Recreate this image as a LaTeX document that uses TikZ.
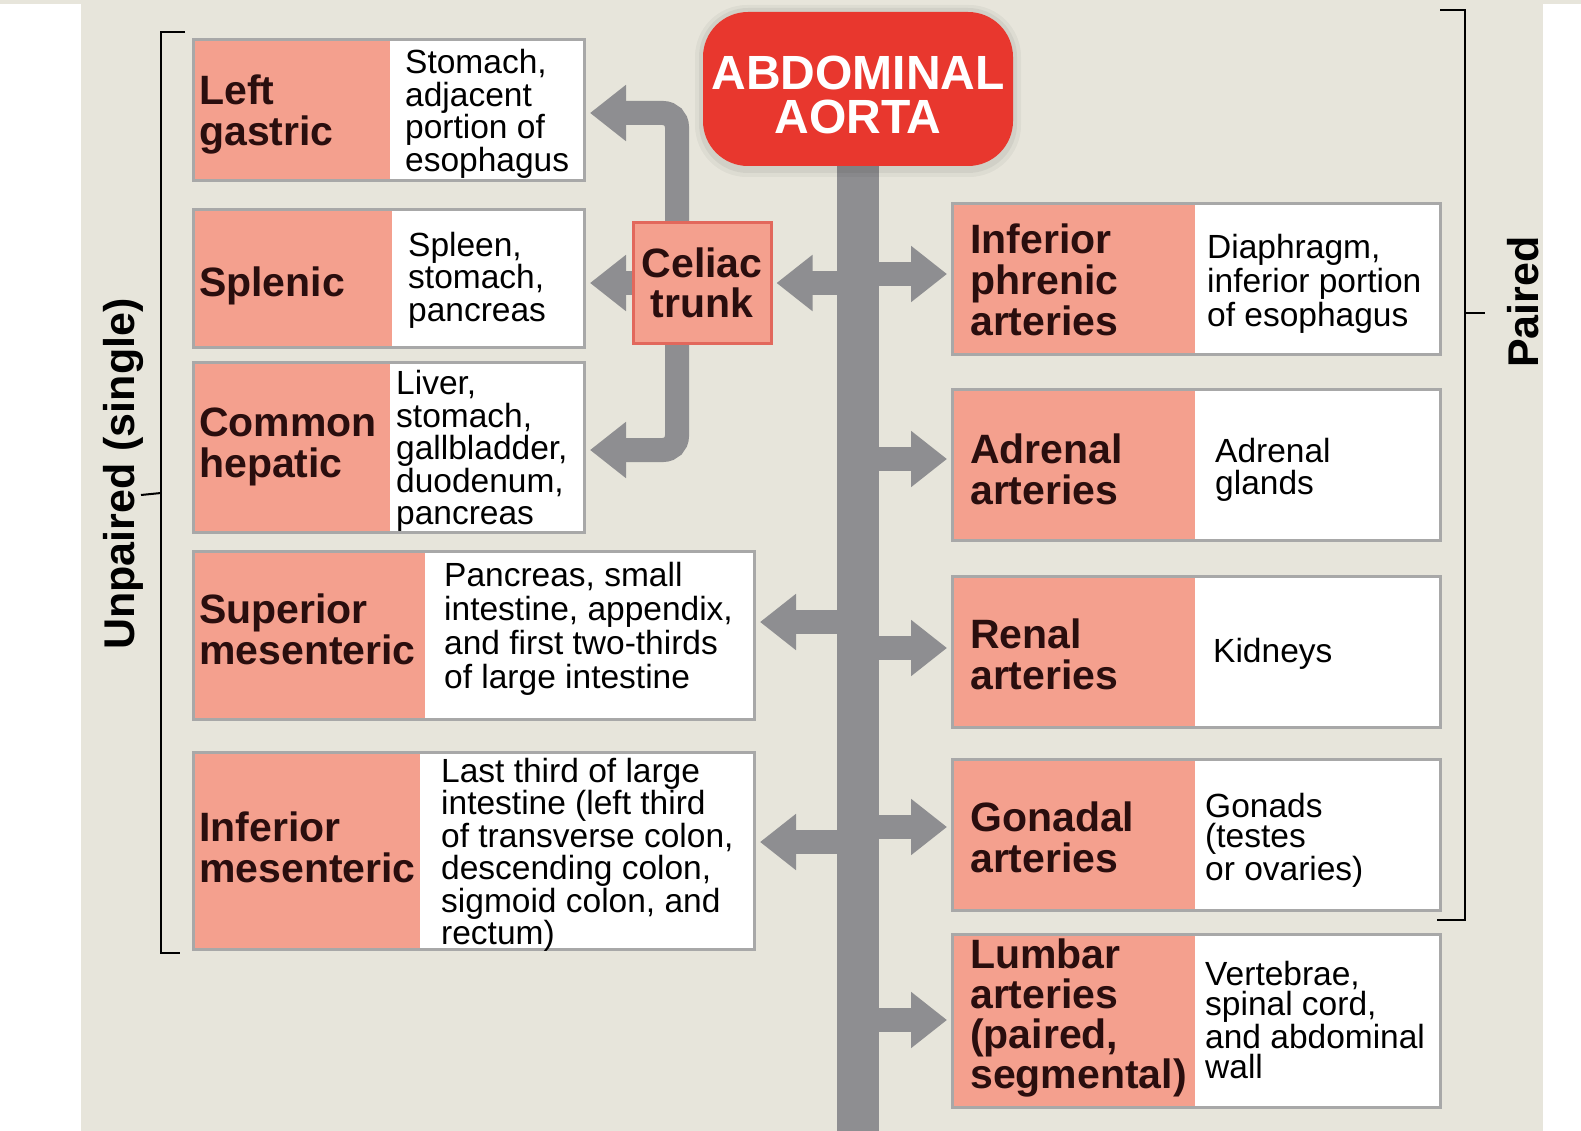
\documentclass[tikz,border=0pt]{standalone}
\usepackage{fontspec}
\setmainfont{Liberation Sans}
\usetikzlibrary{arrows.meta}
\pgfdeclarelayer{bg}
\pgfdeclarelayer{arr}
\pgfsetlayers{bg,arr,main}
\definecolor{beige}{HTML}{E7E5DB}
\definecolor{pinkc}{HTML}{F4A08E}
\definecolor{boxgray}{HTML}{A8A8A8}
\definecolor{arrgray}{HTML}{8E8E91}
\definecolor{aortared}{HTML}{E8372E}
\definecolor{celborder}{HTML}{E2685C}
\definecolor{labelc}{HTML}{2A0E0E}
\begin{document}
\begin{tikzpicture}[x=1pt,y=-1pt,
  frame/.style={rectangle, draw=boxgray, line width=3pt, fill=white, inner sep=0pt, anchor=north west},
  split/.style={path picture={\fill[pinkc] (path picture bounding box.north west) rectangle ([xshift=#1]path picture bounding box.south west);}},
  lbl/.style={anchor=west, align=left, inner sep=0pt, text=labelc, font=\bfseries\fontsize{41}{41}\selectfont},
  dsc/.style={anchor=west, align=left, inner sep=0pt, text=black, font=\fontsize{33.5}{32.5}\selectfont},
  artery/.style={draw=arrgray, line width=24pt, -{Triangle[width=54pt,length=36pt]}, shorten >=4pt},
  brk/.style={draw=black, line width=2pt},
  side/.style={rotate=90, inner sep=0pt, text=black, font=\bfseries\fontsize{43}{43}\selectfont},
]
\useasboundingbox (0,0) rectangle (1581,1131);
\begin{pgfonlayer}{bg}
\fill[white] (0,0) rectangle (1581,1131);
\fill[beige] (81,0) rectangle (1543,1131);
\fill[beige] (0,0) rectangle (1581,4);
\end{pgfonlayer}

% brackets
\draw[brk] (185,32) -- (161,32) -- (161,953) -- (180,953);
\draw[brk] (161,493) -- (141,495);
\node[side] (unp) at (123,474) {Unpaired (single)};
\draw[brk] (1440,10) -- (1465,10) -- (1465,920) -- (1437,920);
\draw[brk] (1465,313) -- (1485,313);
\node[side] (pair) at (1523,302) {Paired};

% aorta trunk
\begin{pgfonlayer}{arr}
\node[fill=arrgray, inner sep=0pt, minimum width=42pt, minimum height=975pt, anchor=north] (trunk) at (858,156) {};
\end{pgfonlayer}

% boxes (left, unpaired)
\node[frame, split=196pt, minimum width=391pt, minimum height=141pt] (lg) at (192,38) {};
\node[frame, split=198pt, minimum width=391pt, minimum height=138pt] (sp) at (192,208) {};
\node[frame, split=196pt, minimum width=391pt, minimum height=170pt] (ch) at (192,361) {};
\node[frame, split=231pt, minimum width=561pt, minimum height=168pt] (sm) at (192,550) {};
\node[frame, split=226pt, minimum width=561pt, minimum height=197pt] (im) at (192,751) {};
% boxes (right, paired)
\node[frame, split=242pt, minimum width=488pt, minimum height=151pt] (ip) at (951,202) {};
\node[frame, split=242pt, minimum width=488pt, minimum height=151pt] (ad) at (951,388) {};
\node[frame, split=242pt, minimum width=488pt, minimum height=151pt] (rn) at (951,575) {};
\node[frame, split=242pt, minimum width=488pt, minimum height=151pt] (gn) at (951,758) {};
\node[frame, split=242pt, minimum width=488pt, minimum height=173pt] (lm) at (951,933) {};

% celiac trunk
\node[rectangle, fill=pinkc, draw=celborder, line width=3pt, minimum width=138pt, minimum height=121pt, inner sep=0pt, align=center, text=labelc, font=\bfseries\fontsize{41}{40}\selectfont] (cel) at (702,283) {Celiac\\trunk};

% arrow end coordinates
\coordinate (cbar) at (677,283);
\coordinate (lgA) at (lg.east |- 0,113);
\coordinate (chA) at (ch.east |- 0,450);
\coordinate (spA) at (sp.east |- cel.west);
\coordinate (smA) at (sm.east |- 0,622);
\coordinate (imA) at (im.east |- 0,842);
\coordinate (ipA) at (ip.west |- 0,274);
\coordinate (adA) at (ad.west |- 0,459);
\coordinate (rnA) at (rn.west |- 0,648);
\coordinate (gnA) at (gn.west |- 0,827);
\coordinate (lmA) at (lm.west |- 0,1020);

% arteries
\begin{pgfonlayer}{arr}
\draw[artery, rounded corners=14pt] (cbar) |- (lgA);
\draw[artery, rounded corners=14pt] (cbar) |- (chA);
\draw[artery] (cel.west) -- (spA);
\draw[artery] (trunk.center |- cel.east) -- (cel.east);
\draw[artery] (trunk.center |- smA) -- (smA);
\draw[artery] (trunk.center |- imA) -- (imA);
\draw[artery] (trunk.center |- ipA) -- (ipA);
\draw[artery] (trunk.center |- adA) -- (adA);
\draw[artery] (trunk.center |- rnA) -- (rnA);
\draw[artery] (trunk.center |- gnA) -- (gnA);
\draw[artery] (trunk.center |- lmA) -- (lmA);
\end{pgfonlayer}

% aorta head with soft halo
\fill[black, opacity=0.04, rounded corners=52pt] (695,5) rectangle (1021,177);
\fill[black, opacity=0.05, rounded corners=49pt] (699,8) rectangle (1017,173);
\node[rectangle, rounded corners=45pt, fill=aortared, minimum width=310pt, minimum height=154pt, inner sep=0pt] (aorta) at (858,89) {};
\node[inner sep=0pt, align=center, text=white, font=\bfseries\fontsize{48}{44}\selectfont] (aortaT) at ([yshift=-6pt]aorta.center) {ABDOMINAL\\AORTA};

% texts left
\node[lbl] (lgL) at (199,114) {Left\\gastric};
\node[dsc] (lgD) at (405,114) {Stomach,\\adjacent\\portion of\\esophagus};
\node[lbl] (spL) at (199,286) {Splenic};
\node[dsc] (spD) at (408,280) {Spleen,\\stomach,\\pancreas};
\node[lbl] (chL) at (199,447) {Common\\hepatic};
\node[dsc] (chD) at (396,451) {Liver,\\stomach,\\gallbladder,\\duodenum,\\pancreas};
\node[lbl] (smL) at (199,629) {Superior\\mesenteric};
\node[dsc, font=\fontsize{33.5}{34}\selectfont] (smD) at (444,629) {Pancreas, small\\intestine, appendix,\\and first two-thirds\\of large intestine};
\node[lbl] (imL) at (199,847) {Inferior\\mesenteric};
\node[dsc] (imD) at (441,855) {Last third of large\\intestine (left third\\of transverse colon,\\descending colon,\\sigmoid colon, and\\rectum)};

% texts right
\node[lbl] (ipL) at (970,280) {Inferior\\phrenic\\arteries};
\node[dsc, font=\fontsize{33.5}{34}\selectfont] (ipD) at (1207,284) {Diaphragm,\\inferior portion\\of esophagus};
\node[lbl] (adL) at (970,469) {Adrenal\\arteries};
\node[dsc] (adD) at (1215,470) {Adrenal\\glands};
\node[lbl] (rnL) at (970,654) {Renal\\arteries};
\node[dsc] (rnD) at (1213,654) {Kidneys};
\node[lbl] (gnL) at (970,837) {Gonadal\\arteries};
\node[dsc, font=\fontsize{33.5}{30.5}\selectfont] (gnD) at (1205,840) {Gonads\\(testes\\or ovaries)};
\node[lbl, font=\bfseries\fontsize{41}{40}\selectfont] (lmL) at (970,1018) {Lumbar\\arteries\\(paired,\\segmental)};
\node[dsc, font=\fontsize{33.5}{30.5}\selectfont] (lmD) at (1205,1020) {Vertebrae,\\spinal cord,\\and abdominal\\wall};
\end{tikzpicture}
\end{document}
